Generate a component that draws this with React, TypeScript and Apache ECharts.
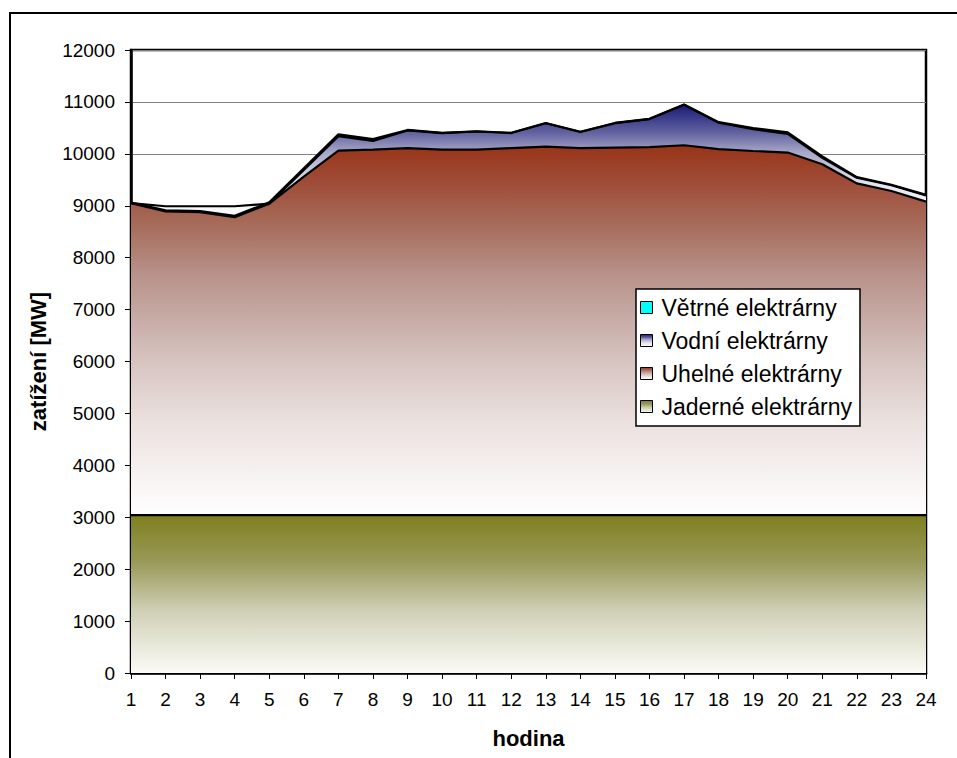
import React, { useEffect, useRef } from "react";
import * as echarts from "echarts";

const hours = ["1","2","3","4","5","6","7","8","9","10","11","12","13","14","15","16","17","18","19","20","21","22","23","24"];
const jaderne = [3040,3040,3040,3040,3040,3040,3040,3040,3040,3040,3040,3040,3040,3040,3040,3040,3040,3040,3040,3040,3040,3040,3040,3040];
const uhelne = [6010,5950,5950,5950,6000,6520,7020,7040,7070,7040,7040,7070,7100,7070,7080,7090,7125,7050,7015,6985,6760,6390,6245,6040];
const vodni = [0,-100,-115,-210,0,130,280,170,340,320,350,290,450,310,470,540,780,510,420,360,125,110,110,120];
const vetrne = [10,20,20,25,25,30,35,35,10,5,5,5,5,5,5,5,5,10,20,30,25,10,10,10];
const yTicks = { min: 0, max: 12000, interval: 1000 };

const FONT = "'Liberation Sans', Arial, sans-serif";

const grad = (stops: [number, string][]) =>
  new echarts.graphic.LinearGradient(0, 0, 0, 1, stops.map(([offset, color]) => ({ offset, color })));

const gJad = () => grad([[0, "#7f7f1f"], [0.3, "#9a9a5a"], [0.6, "#cfcfb5"], [1, "#fbfbf7"]]);
const gUhe = () => grad([[0, "#993418"], [0.1, "#9f4c38"], [0.23, "#a8705f"], [0.35, "#b8928a"], [0.58, "#d6c3c0"], [0.75, "#ebe1df"], [1, "#ffffff"]]);
const gVod = () => grad([[0, "#1a1a7a"], [0.25, "#6363a0"], [0.42, "#a6a6c8"], [0.7, "#e4e4ee"], [1, "#ffffff"]]);
const cVet = "#00ffff";

export default function App() {
  const ref = useRef<HTMLDivElement>(null);
  useEffect(() => {
    if (!ref.current) return;
    const chart = echarts.init(ref.current, null, { renderer: "svg" });
    const mk = (name: string, data: number[], fill: any) => ({
      name,
      type: "line",
      stack: "total",
      stackStrategy: "all",
      data,
      symbol: "none",
      smooth: false,
      lineStyle: { color: "#000", width: 2.2 },
      areaStyle: { color: fill, opacity: 1 },
      itemStyle: { color: fill },
    });
    chart.setOption({
      animation: false,
      backgroundColor: "#fff",
      textStyle: { fontFamily: FONT },
      grid: { left: 131, right: 31, top: 50, bottom: 85, show: true, borderColor: "#000", borderWidth: 2.5, backgroundColor: "transparent" },
      graphic: [
        { type: "rect", shape: { x: 10, y: 13, width: 1000, height: 800 }, style: { fill: "none", stroke: "#000", lineWidth: 2 }, silent: true, z: -1 },
      ],
      legend: {
        orient: "vertical",
        left: 636,
        top: 289,
        backgroundColor: "#fff",
        borderColor: "#000",
        borderWidth: 1.5,
        padding: [7, 8, 8, 4],
        itemGap: 10,
        itemWidth: 12,
        itemHeight: 12,
        textStyle: { fontFamily: FONT, fontSize: 23, color: "#000", padding: [0, 0, 0, 4] },
        data: [
          { name: "Větrné elektrárny", icon: "rect", itemStyle: { color: cVet, borderColor: "#000", borderWidth: 1 } },
          { name: "Vodní elektrárny", icon: "rect", itemStyle: { color: gVod(), borderColor: "#000", borderWidth: 1 } },
          { name: "Uhelné elektrárny", icon: "rect", itemStyle: { color: gUhe(), borderColor: "#000", borderWidth: 1 } },
          { name: "Jaderné elektrárny", icon: "rect", itemStyle: { color: gJad(), borderColor: "#000", borderWidth: 1 } },
        ],
      },
      xAxis: {
        type: "category",
        data: hours,
        boundaryGap: false,
        name: "hodina",
        nameLocation: "middle",
        nameGap: 54,
        nameTextStyle: { fontFamily: FONT, fontSize: 22, fontWeight: "bold", color: "#000" },
        axisLine: { lineStyle: { color: "#000", width: 2.5 } },
        axisTick: { show: true, length: 6, lineStyle: { color: "#000", width: 1 } },
        axisLabel: { fontFamily: FONT, fontSize: 19, color: "#000", margin: 17, interval: 0 },
        splitLine: { show: false },
      },
      yAxis: {
        type: "value",
        min: yTicks.min,
        max: yTicks.max,
        interval: yTicks.interval,
        name: "zatížení [MW]",
        nameLocation: "middle",
        nameGap: 82,
        nameTextStyle: { fontFamily: FONT, fontSize: 22, fontWeight: "bold", color: "#000" },
        axisLine: { show: true, lineStyle: { color: "#000", width: 2.5 } },
        axisTick: { show: true, length: 6, lineStyle: { color: "#000", width: 1 } },
        axisLabel: { fontFamily: FONT, fontSize: 19, color: "#000", margin: 16, formatter: (v: number) => String(v) },
        splitLine: { show: true, lineStyle: { color: "#808080", width: 1 } },
      },
      series: [
        mk("Jaderné elektrárny", jaderne, gJad()),
        mk("Uhelné elektrárny", uhelne, gUhe()),
        mk("Vodní elektrárny", vodni, gVod()),
        mk("Větrné elektrárny", vetrne, cVet),
      ],
    });
    return () => chart.dispose();
  }, []);
  return <div ref={ref} style={{ width: 957, height: 758, position: "absolute", left: 0, top: 0 }} />;
}
